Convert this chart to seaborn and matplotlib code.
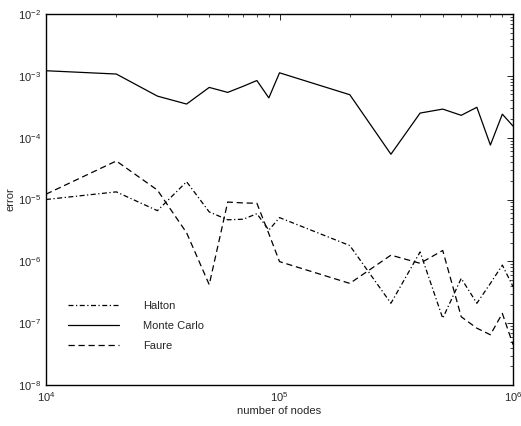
import numpy as np
import pandas as pd
import seaborn as sns
import matplotlib
matplotlib.use("Agg")
import matplotlib.pyplot as plt
from matplotlib.ticker import LogLocator

# number of nodes
nodes = [1e4, 2e4, 3e4, 4e4, 5e4, 6e4, 7e4, 8e4, 9e4,
         1e5, 2e5, 3e5, 4e5, 5e5, 6e5, 7e5, 8e5, 9e5, 1e6]

# error values
halton = [1.0e-5, 1.33e-5, 6.6e-6, 1.94e-5, 6.3e-6, 4.7e-6, 4.8e-6, 5.9e-6, 3.2e-6,
          5.1e-6, 1.8e-6, 2.1e-7, 1.42e-6, 1.2e-7, 5.3e-7, 2.1e-7, 4.4e-7, 8.7e-7, 3.9e-7]
monte_carlo = [1.21e-3, 1.07e-3, 4.7e-4, 3.5e-4, 6.5e-4, 5.4e-4, 6.8e-4, 8.4e-4, 4.4e-4,
               1.12e-3, 4.95e-4, 5.4e-5, 2.5e-4, 2.9e-4, 2.3e-4, 3.1e-4, 7.6e-5, 2.4e-4, 1.54e-4]
faure = [1.22e-5, 4.2e-5, 1.42e-5, 2.9e-6, 4.2e-7, 9.1e-6, 8.8e-6, 8.7e-6, 2.8e-6,
         9.9e-7, 4.4e-7, 1.26e-6, 9.3e-7, 1.5e-6, 1.27e-7, 8.3e-8, 6.5e-8, 1.44e-7, 4.5e-8]

series_names = ["Halton", "Monte Carlo", "Faure"]
series_styles = {"Halton": (0, (4, 2, 1, 2)), "Monte Carlo": "-", "Faure": (0, (5, 3))}

df = pd.DataFrame({
    "nodes": nodes * 3,
    "error": halton + monte_carlo + faure,
    "method": sum([[n] * len(nodes) for n in series_names], []),
})

sns.set_style("white")
plt.rcParams["font.family"] = ["Liberation Sans", "DejaVu Sans"]
plt.rcParams["mathtext.fontset"] = "custom"
plt.rcParams["mathtext.rm"] = "Liberation Sans"
plt.rcParams["mathtext.it"] = "Liberation Sans:italic"

fig = plt.figure(figsize=(5.21, 4.26), dpi=100)
ax = fig.add_axes([0.0883, 0.0962, 0.8964, 0.8709])

for name in series_names:
    sns.lineplot(data=df[df["method"] == name], x="nodes", y="error", ax=ax,
                 color="black", linewidth=0.9, linestyle=series_styles[name],
                 label=name, estimator=None, errorbar=None)

ax.set_xscale("log")
ax.set_yscale("log")
ax.set_xlim(1e4, 1e6)
ax.set_ylim(1e-8, 1e-2)
ax.yaxis.set_major_locator(LogLocator(base=10, numticks=10))
ax.yaxis.set_minor_locator(LogLocator(base=10, subs=np.arange(2, 10), numticks=10))

ax.set_xlabel("number of nodes", fontsize=8, labelpad=2)
ax.set_ylabel("error", fontsize=8, labelpad=2)
ax.tick_params(which="both", direction="in", top=True, right=True, labelsize=8,
               color="black")
ax.tick_params(which="major", length=4, width=0.6)
ax.tick_params(which="minor", length=2, width=0.5)
for s in ax.spines.values():
    s.set_color("black")
    s.set_linewidth(1.0)

leg = ax.legend(loc="lower left", bbox_to_anchor=(0.025, 0.065), frameon=False,
                fontsize=8, handlelength=4.6, handletextpad=2.2, labelspacing=0.9)

fig.savefig("out.png", dpi=100)
